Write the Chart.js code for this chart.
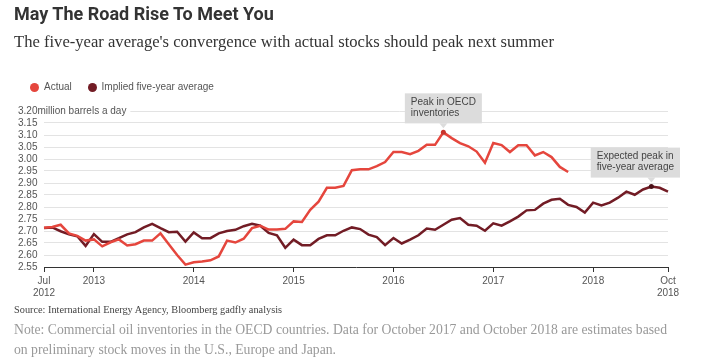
<!DOCTYPE html>
<html>
<head>
<meta charset="utf-8">
<script src="https://cdn.jsdelivr.net/npm/chart.js@4.4.1/dist/chart.umd.min.js"></script>
<style>
    html, body { margin: 0; padding: 0; background: #fff; }
    body { width: 702px; height: 363px; position: relative; overflow: hidden; }
    #chartWrap { position: absolute; left: 0; top: 0; width: 702px; height: 363px; }
    .txt { position: absolute; left: 14px; white-space: nowrap; }
    .title { top: 3px; font: bold 18px/22px Roboto, "Liberation Sans", sans-serif; color: #333; }
    .subtitle { top: 32px; font: 16.6px/20px "Liberation Serif", serif; color: #333; }
    .legend { top: 80px; left: 30px; font: 10px/14px "Liberation Sans", Arial, sans-serif; color: #555; }
    .legend span { display: inline-block; vertical-align: middle; }
    .legend .dot { width: 9px; height: 9px; border-radius: 50%; margin-right: 5px; }
    .legend .item { margin-right: 13px; }
    .source { top: 304px; font: 10.3px/12px "Liberation Serif", serif; color: #444; }
    .note { top: 320px; font: 13.7px/20px "Liberation Serif", serif; color: #999; }
</style>
</head>
<body>
<div id="chartWrap"><canvas id="stocksChart"></canvas></div>
<div class="txt title">May The Road Rise To Meet You</div>
<div class="txt subtitle">The five-year average's convergence with actual stocks should peak next summer</div>
<div class="txt legend">
    <span class="dot" style="background:#e5463d"></span><span class="item">Actual</span>
    <span class="dot" style="background:#721c25"></span><span>Implied five-year average</span>
</div>
<div class="txt source">Source: International Energy Agency, Bloomberg gadfly analysis</div>
<div class="txt note">Note: Commercial oil inventories in the OECD countries. Data for October 2017 and October 2018 are estimates based<br>on preliminary stock moves in the U.S., Europe and Japan.</div>
<script>
// monthly, Jul 2012 .. Oct 2018
const firstMonth = { year: 2012, month: 7 };
const monthCount = 76;

// million barrels a day
const actual = [
    2.714, 2.717, 2.726, 2.69, 2.68, 2.66, 2.665, 2.636, 2.653, 2.665, 2.64, 2.645,
    2.66, 2.66, 2.69, 2.645, 2.60, 2.56, 2.57, 2.573, 2.578, 2.594, 2.66, 2.652,
    2.668, 2.712, 2.722, 2.706, 2.706, 2.709, 2.74, 2.738, 2.788, 2.822, 2.88, 2.88,
    2.888, 2.953, 2.957, 2.957, 2.97, 2.987, 3.029, 3.029, 3.02, 3.034, 3.059, 3.059,
    3.111, 3.087, 3.066, 3.053, 3.031, 2.984, 3.067, 3.058, 3.029, 3.057, 3.057, 3.015,
    3.029, 3.008, 2.967, 2.946
];

const fiveYearAverage = [
    2.712, 2.715, 2.699, 2.686, 2.678, 2.638, 2.687, 2.655, 2.655, 2.67, 2.686, 2.695,
    2.715, 2.73, 2.712, 2.695, 2.697, 2.656, 2.694, 2.67, 2.67, 2.69, 2.70, 2.705,
    2.72, 2.73, 2.722, 2.692, 2.682, 2.63, 2.664, 2.641, 2.641, 2.667, 2.682, 2.682,
    2.701, 2.715, 2.708, 2.685, 2.675, 2.641, 2.671, 2.648, 2.664, 2.682, 2.71, 2.705,
    2.726, 2.747, 2.754, 2.726, 2.722, 2.701, 2.732, 2.722, 2.74, 2.76, 2.786, 2.788,
    2.814, 2.83, 2.834, 2.809, 2.80, 2.777, 2.818, 2.807, 2.818, 2.839, 2.864, 2.851,
    2.873, 2.885, 2.88, 2.864
];

const xTickText = {
    "2012-07": ["Jul", "2012"],
    "2013-01": "2013",
    "2014-01": "2014",
    "2015-01": "2015",
    "2016-01": "2016",
    "2017-01": "2017",
    "2018-01": "2018",
    "2018-10": ["Oct", "2018"]
};

const yMin = 2.55;
const yMax = 3.20;
const yStep = 0.05;
const yUnit = "million barrels a day";

const callouts = [
    { dataset: 0, index: 48, lines: ["Peak in OECD", "inventories"] },
    { dataset: 1, index: 73, lines: ["Expected peak in", "five-year average"] }
];

const RED = "#e5463d";
const DARK = "#721c25";
const GRID = "#e3e3e3";
const LABEL_FONT = "10px 'Liberation Sans', Arial, sans-serif";

function buildMonthLabels() {
    const out = [];
    for (let i = 0; i < monthCount; i++) {
        const m = firstMonth.month - 1 + i;
        const y = firstMonth.year + Math.floor(m / 12);
        out.push(y + "-" + String((m % 12) + 1).padStart(2, "0"));
    }
    return out;
}

const monthLabels = buildMonthLabels();

function isTop(v) {
    return Math.abs(v - yMax) < 1e-6;
}

// unit text after the top tick label, top gridline starts after it
const unitPlugin = {
    id: "unitLabel",
    beforeDatasetsDraw(chart) {
        const ctx = chart.ctx;
        const y = chart.scales.y;
        const py = y.getPixelForValue(yMax);
        ctx.save();
        ctx.font = LABEL_FONT;
        ctx.fillStyle = "#555";
        ctx.textBaseline = "middle";
        ctx.textAlign = "left";
        const x0 = y.left + ctx.measureText(yMax.toFixed(2)).width;
        ctx.fillText(yUnit, x0, py);
        const x1 = x0 + ctx.measureText(yUnit).width + 4;
        ctx.strokeStyle = GRID;
        ctx.lineWidth = 1;
        ctx.beginPath();
        ctx.moveTo(x1, Math.round(py) + 0.5);
        ctx.lineTo(chart.chartArea.right, Math.round(py) + 0.5);
        ctx.stroke();
        ctx.restore();
    }
};

const calloutPlugin = {
    id: "callouts",
    afterDatasetsDraw(chart) {
        const ctx = chart.ctx;
        ctx.save();
        ctx.font = LABEL_FONT;
        callouts.forEach(function (c) {
            const pt = chart.getDatasetMeta(c.dataset).data[c.index];
            if (!pt) return;
            const w = Math.max.apply(null, c.lines.map(l => ctx.measureText(l).width)) + 12;
            const h = 30;
            let left = pt.x - w / 2;
            left = Math.min(left, chart.width - 22 - w);
            const bottom = pt.y - 9;
            const top = bottom - h;

            ctx.fillStyle = "#dcdcdc";
            ctx.fillRect(left, top, w, h);
            ctx.beginPath();
            ctx.moveTo(pt.x - 4, bottom);
            ctx.lineTo(pt.x + 4, bottom);
            ctx.lineTo(pt.x, bottom + 5);
            ctx.closePath();
            ctx.fill();

            ctx.fillStyle = "#444";
            ctx.textBaseline = "middle";
            ctx.textAlign = "left";
            c.lines.forEach(function (l, k) {
                ctx.fillText(l, left + 6, top + 9 + k * 11);
            });

            ctx.fillStyle = c.dataset === 0 ? "#c8342c" : "#4a0f16";
            ctx.beginPath();
            ctx.arc(pt.x, pt.y, 2.5, 0, Math.PI * 2);
            ctx.fill();
        });
        ctx.restore();
    }
};

new Chart(document.getElementById("stocksChart"), {
    type: "line",
    data: {
        labels: monthLabels,
        datasets: [
            {
                label: "Actual",
                data: actual,
                borderColor: RED,
                borderWidth: 2.5,
                pointRadius: 0,
                tension: 0,
                fill: false
            },
            {
                label: "Implied five-year average",
                data: fiveYearAverage,
                borderColor: DARK,
                borderWidth: 2.5,
                pointRadius: 0,
                tension: 0,
                fill: false
            }
        ]
    },
    options: {
        responsive: true,
        maintainAspectRatio: false,
        animation: false,
        events: [],
        layout: { padding: { left: 18, right: 34, top: 111, bottom: 56 } },
        plugins: {
            legend: { display: false },
            tooltip: { enabled: false }
        },
        scales: {
            x: {
                type: "category",
                offset: false,
                afterBuildTicks: function (scale) {
                    scale.ticks = scale.ticks.filter(t => xTickText[monthLabels[t.value]] !== undefined);
                },
                afterFit: function (scale) { scale.height = 40; },
                grid: {
                    display: true,
                    drawOnChartArea: false,
                    drawTicks: true,
                    tickLength: 5,
                    color: "#333",
                    offset: false
                },
                border: { display: true, color: "#333", width: 1 },
                ticks: {
                    autoSkip: false,
                    maxRotation: 0,
                    padding: 3,
                    color: "#555",
                    font: { family: "'Liberation Sans', Arial, sans-serif", size: 10, lineHeight: 1.2 },
                    callback: function (value) {
                        return xTickText[monthLabels[value]];
                    }
                }
            },
            y: {
                min: yMin,
                max: yMax,
                afterFit: function (scale) { scale.width = 26; },
                border: { display: false },
                grid: {
                    drawTicks: false,
                    color: function (c) {
                        if (!c.tick) return GRID;
                        const v = c.tick.value;
                        return Math.abs(v - yMin) < 1e-6 || isTop(v) ? "rgba(0,0,0,0)" : GRID;
                    }
                },
                ticks: {
                    stepSize: yStep,
                    autoSkip: false,
                    crossAlign: "far",
                    padding: 4,
                    color: "#555",
                    font: { family: "'Liberation Sans', Arial, sans-serif", size: 10 },
                    callback: function (value) {
                        return Number(value).toFixed(2);
                    }
                }
            }
        }
    },
    plugins: [unitPlugin, calloutPlugin]
});
</script>
</body>
</html>
